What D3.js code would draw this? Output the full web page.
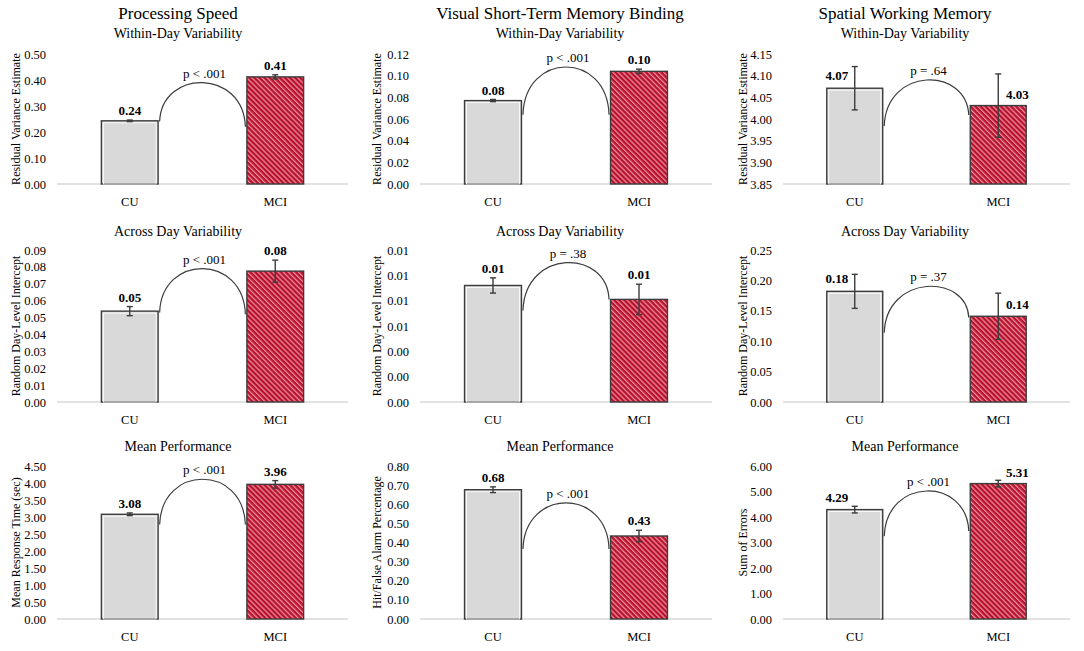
<!DOCTYPE html>
<html>
<head>
<meta charset="utf-8">
<script src="https://cdn.jsdelivr.net/npm/d3@7"></script>
<style>
  body { margin: 0; background: #fff; }
  text { font-family: "Liberation Serif", "Times New Roman", serif; fill: #000; }
</style>
</head>
<body>
<svg id="chart" width="1084" height="651"></svg>
<script>
// ---- data ----
const groups = ["CU", "MCI"];
const taskTitles = ["Processing Speed", "Visual Short-Term Memory Binding", "Spatial Working Memory"];
const rowTitles = ["Within-Day Variability", "Across Day Variability", "Mean Performance"];
const yLabels = [
  "Residual Variance Estimate", "Residual Variance Estimate", "Residual Variance Estimate",
  "Random Day-Level Intercept", "Random Day-Level Intercept", "Random Day-Level Intercept",
  "Mean Response Time (sec)", "Hit/False Alarm Percentage", "Sum of Errors"
];
// bar values [CU, MCI]
const cuValues  = [0.243, 0.077, 4.071, 0.0538, 0.0092, 0.182, 3.08, 0.676, 4.29];
const mciValues = [0.412, 0.104, 4.031, 0.0775, 0.0081, 0.141, 3.96, 0.434, 5.31];
const cuErrors  = [0.003, 0.001, 0.050, 0.0027, 0.0006, 0.028, 0.04, 0.015, 0.13];
const mciErrors = [0.008, 0.002, 0.073, 0.0065, 0.0012, 0.038, 0.11, 0.030, 0.13];
const cuLabels  = ["0.24", "0.08", "4.07", "0.05", "0.01", "0.18", "3.08", "0.68", "4.29"];
const mciLabels = ["0.41", "0.10", "4.03", "0.08", "0.01", "0.14", "3.96", "0.43", "5.31"];
// y axis domain and tick step
const yMins  = [0, 0, 3.85, 0, 0, 0, 0, 0, 0];
const yMaxs  = [0.5, 0.12, 4.15, 0.09, 0.012, 0.25, 4.5, 0.8, 6];
const ySteps = [0.1, 0.02, 0.05, 0.01, 0.002, 0.05, 0.5, 0.1, 1];
// comparison arc: left end, top, right end (data units)
const arcLeft  = [0.24, 0.064, 3.984, 0.053, 0.00723, 0.114, 2.78, 0.366, 3.25];
const arcTop   = [0.39, 0.108, 4.090, 0.079, 0.0110, 0.190, 4.11, 0.607, 5.02];
const arcRight = [0.22, 0.064, 4.009, 0.052, 0.0081, 0.139, 2.78, 0.366, 3.45];
const pTexts = ["p < .001", "p < .001", "p = .64", "p < .001", "p = .38", "p = .37", "p < .001", "p < .001", "p < .001"];

// ---- layout ----
const colX = [[57, 348], [420, 712], [783, 1070]];
const tickRight = [46, 409, 772];
const yLabelX = [16, 377, 743];
const titleX = [178, 560, 905];
const rowY = [[184, 54], [402, 250], [619, 466]];   // [bottom, top]
const rowTitleY = [38, 236, 451];

const svg = d3.select("#chart");
const fmt = d3.format(".2f");

const defs = svg.append("defs");
const pat = defs.append("pattern")
  .attr("id", "hatch")
  .attr("patternUnits", "userSpaceOnUse")
  .attr("width", 3.6).attr("height", 3.6)
  .attr("patternTransform", "rotate(-45)");
pat.append("rect").attr("width", 3.6).attr("height", 3.6).attr("fill", "#b8102c");
pat.append("rect").attr("width", 1.3).attr("height", 3.6).attr("fill", "#eb8e9c");

// task titles on top
svg.selectAll(".task")
  .data(taskTitles)
  .enter()
  .append("text")
  .attr("x", (d, i) => titleX[i])
  .attr("y", 19)
  .attr("text-anchor", "middle")
  .attr("font-size", "17px")
  .text(d => d);

for (let p = 0; p < 9; p++) {
  const col = p % 3, row = Math.floor(p / 3);
  const g = svg.append("g");

  const x = d3.scaleBand()
    .domain(groups)
    .range(colX[col])
    .paddingInner(0.61)
    .paddingOuter(0.305);

  const y = d3.scaleLinear()
    .domain([yMins[p], yMaxs[p]])
    .range(rowY[row]);

  const ticks = d3.range(yMins[p], yMaxs[p] + ySteps[p] / 2, ySteps[p]);

  // row title
  g.append("text")
    .attr("x", titleX[col])
    .attr("y", rowTitleY[row])
    .attr("text-anchor", "middle")
    .attr("font-size", "14px")
    .text(rowTitles[row]);

  // y axis (labels only)
  const yAxis = d3.axisLeft(y).tickValues(ticks).tickFormat(fmt).tickSize(0).tickPadding(0);
  const ya = g.append("g")
    .attr("transform", `translate(${tickRight[col]},0)`)
    .call(yAxis);
  ya.select(".domain").remove();
  ya.selectAll("text")
    .attr("font-size", "12.5px")
    .attr("font-family", "Liberation Serif, serif")
    .attr("fill", "#000");

  // y label
  g.append("text")
    .attr("transform", `translate(${yLabelX[col]},${(rowY[row][0] + rowY[row][1]) / 2}) rotate(-90)`)
    .attr("text-anchor", "middle")
    .attr("dy", "0.35em")
    .attr("font-size", "12px")
    .text(yLabels[p]);

  // baseline
  g.append("line")
    .attr("x1", colX[col][0]).attr("x2", colX[col][1])
    .attr("y1", y(yMins[p])).attr("y2", y(yMins[p]))
    .attr("stroke", "#d9d9d9")
    .attr("stroke-width", 1.5);

  // category labels
  const xa = g.append("g")
    .attr("transform", `translate(0,${y(yMins[p])})`)
    .call(d3.axisBottom(x).tickSize(0).tickPadding(13));
  xa.select(".domain").remove();
  xa.selectAll("text")
    .attr("font-size", "12.5px")
    .attr("font-family", "Liberation Serif, serif")
    .attr("fill", "#000");

  const bars = [
    { k: "CU", v: cuValues[p], e: cuErrors[p], lab: cuLabels[p], fill: "#d9d9d9" },
    { k: "MCI", v: mciValues[p], e: mciErrors[p], lab: mciLabels[p], fill: "url(#hatch)" }
  ];

  g.selectAll(".bar")
    .data(bars)
    .enter()
    .append("rect")
    .attr("x", d => x(d.k))
    .attr("y", d => y(d.v))
    .attr("width", x.bandwidth())
    .attr("height", d => y(yMins[p]) - y(d.v))
    .attr("fill", d => d.fill)
    .attr("stroke", "#3c3c3c")
    .attr("stroke-width", 1.4);

  // inner light border on the grey bar
  g.append("rect")
    .attr("x", x("CU") + 2)
    .attr("y", y(cuValues[p]) + 2)
    .attr("width", x.bandwidth() - 4)
    .attr("height", y(yMins[p]) - y(cuValues[p]) - 2)
    .attr("fill", "none")
    .attr("stroke", "#ffffff")
    .attr("stroke-width", 0.8);

  // error bars
  const eb = g.selectAll(".err")
    .data(bars)
    .enter()
    .append("g")
    .attr("stroke", "#3c3c3c")
    .attr("stroke-width", 1.4);
  const cx = d => x(d.k) + x.bandwidth() / 2;
  eb.append("line")
    .attr("x1", cx).attr("x2", cx)
    .attr("y1", d => y(d.v + d.e)).attr("y2", d => y(d.v - d.e));
  eb.append("line")
    .attr("x1", d => cx(d) - 3).attr("x2", d => cx(d) + 3)
    .attr("y1", d => y(d.v + d.e)).attr("y2", d => y(d.v + d.e));
  eb.append("line")
    .attr("x1", d => cx(d) - 3).attr("x2", d => cx(d) + 3)
    .attr("y1", d => y(d.v - d.e)).attr("y2", d => y(d.v - d.e));

  // value labels
  g.selectAll(".val")
    .data(bars)
    .enter()
    .append("text")
    .attr("x", (d, i) => col === 2 ? cx(d) + (i === 0 ? -18 : 19) : cx(d))
    .attr("y", (d, i) => col === 2 ? y(d.v) - (i === 0 ? 8 : 7) : y(d.v + d.e) - 5)
    .attr("text-anchor", "middle")
    .attr("font-size", "13px")
    .attr("font-weight", "bold")
    .text(d => d.lab);

  // comparison arc
  const x1 = x("CU") + x.bandwidth() + 1.5;
  const x2 = x("MCI") - 1.5;
  const y1 = y(arcLeft[p]), y2 = y(arcRight[p]), yt = y(arcTop[p]);
  const c = (yt - (y1 + y2) / 8) * 4 / 3;
  const path = d3.path();
  path.moveTo(x1, y1);
  path.bezierCurveTo(x1 + 2, c, x2 - 2, c, x2, y2);
  g.append("path")
    .attr("d", path.toString())
    .attr("fill", "none")
    .attr("stroke", "#3c3c3c")
    .attr("stroke-width", 1.2);

  g.append("text")
    .attr("x", (x1 + x2) / 2 + 2)
    .attr("y", yt - 5)
    .attr("text-anchor", "middle")
    .attr("font-size", "13px")
    .text(pTexts[p]);
}
</script>
</body>
</html>
